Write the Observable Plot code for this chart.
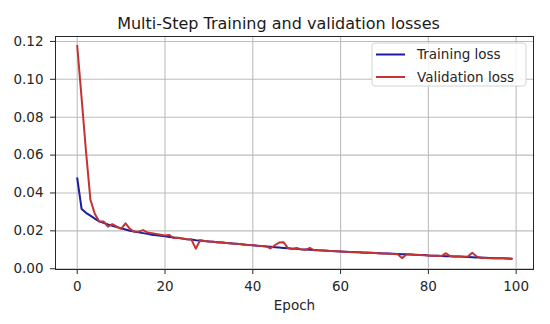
<!DOCTYPE html>
<html>
<head>
<meta charset="utf-8">
<script src="https://cdn.jsdelivr.net/npm/d3@7"></script>
<script src="https://cdn.jsdelivr.net/npm/@observablehq/plot@0.6"></script>
<style>
  html, body { margin: 0; padding: 0; background: #fff; }
  #chart { position: relative; width: 550px; height: 324px; }
</style>
</head>
<body>
<div id="chart"></div>
<script>
const titleText = "Multi-Step Training and validation losses";
const xLabel = "Epoch";
const seriesNames = ["Training loss", "Validation loss"];
const seriesColors = ["#1c1c9c", "#c23434"];
const xTicks = [0, 20, 40, 60, 80, 100];
const yTicks = [0.00, 0.02, 0.04, 0.06, 0.08, 0.10, 0.12];

const trainingLoss = [
  0.0478, 0.0315, 0.0295, 0.0280, 0.0265, 0.0250, 0.0242, 0.0234, 0.0227, 0.0220,
  0.0213, 0.0207, 0.0201, 0.0197, 0.0192, 0.0188, 0.0184, 0.0180, 0.0177, 0.0174,
  0.0171, 0.0168, 0.0165, 0.0162, 0.0159, 0.0156, 0.0154, 0.0151, 0.0149, 0.0146,
  0.0144, 0.0142, 0.0140, 0.0138, 0.0136, 0.0134, 0.0132, 0.0130, 0.0128, 0.0126,
  0.0124, 0.0122, 0.0120, 0.0118, 0.0116, 0.0114, 0.0112, 0.0110, 0.0108, 0.0106,
  0.0105, 0.0103, 0.0102, 0.0100, 0.0099, 0.0097, 0.0096, 0.0095, 0.0093, 0.0092,
  0.0091, 0.0090, 0.0089, 0.0088, 0.0087, 0.0086, 0.0085, 0.0084, 0.0083, 0.0082,
  0.0081, 0.0080, 0.0079, 0.0078, 0.0077, 0.0076, 0.0075, 0.0074, 0.0073, 0.0072,
  0.0070, 0.0069, 0.0068, 0.0067, 0.0066, 0.0066, 0.0065, 0.0064, 0.0063, 0.0062,
  0.0061, 0.0060, 0.0059, 0.0058, 0.0057, 0.0056, 0.0056, 0.0055, 0.0054, 0.0053
];

const validationLoss = [
  0.1177, 0.0900, 0.0620, 0.0365, 0.0290, 0.0250, 0.0250, 0.0222, 0.0235, 0.0222,
  0.0210, 0.0240, 0.0210, 0.0195, 0.0196, 0.0204, 0.0192, 0.0188, 0.0184, 0.0180,
  0.0176, 0.0178, 0.0162, 0.0163, 0.0160, 0.0156, 0.0155, 0.0106, 0.0150, 0.0147,
  0.0144, 0.0143, 0.0139, 0.0138, 0.0136, 0.0133, 0.0132, 0.0130, 0.0127, 0.0125,
  0.0124, 0.0121, 0.0120, 0.0119, 0.0107, 0.0124, 0.0138, 0.0140, 0.0109, 0.0104,
  0.0110, 0.0102, 0.0100, 0.0110, 0.0097, 0.0097, 0.0096, 0.0095, 0.0093, 0.0092,
  0.0091, 0.0090, 0.0089, 0.0087, 0.0088, 0.0085, 0.0086, 0.0083, 0.0083, 0.0081,
  0.0081, 0.0079, 0.0078, 0.0077, 0.0056, 0.0075, 0.0075, 0.0073, 0.0073, 0.0071,
  0.0070, 0.0069, 0.0069, 0.0067, 0.0082, 0.0066, 0.0065, 0.0064, 0.0063, 0.0064,
  0.0084, 0.0065, 0.0057, 0.0057, 0.0056, 0.0056, 0.0055, 0.0055, 0.0054, 0.0053
];

const rows = [];
trainingLoss.forEach((v, i) => rows.push({epoch: i, loss: v, series: seriesNames[0]}));
validationLoss.forEach((v, i) => rows.push({epoch: i, loss: v, series: seriesNames[1]}));

const font = "DejaVu Sans";
const gridColor = "#bdbdbd";

const plot = Plot.plot({
  width: 550,
  height: 324,
  marginLeft: 55,
  marginRight: 17,
  marginTop: 36,
  marginBottom: 55,
  style: {fontFamily: font, fontSize: "13.5px", color: "#262626", background: "#fff"},
  x: {domain: [-4.95, 103.95]},
  y: {domain: [-0.0004, 0.1226]},
  color: {domain: seriesNames, range: seriesColors},
  marks: [
    Plot.gridX(xTicks, {stroke: gridColor, strokeOpacity: 1, strokeWidth: 1.1}),
    Plot.gridY(yTicks, {stroke: gridColor, strokeOpacity: 1, strokeWidth: 1.1}),
    Plot.line(rows, {x: "epoch", y: "loss", z: "series", stroke: "series", strokeWidth: 2}),
    Plot.frame({stroke: "#262626", strokeWidth: 1}),
    Plot.axisX(xTicks, {tickSize: 5, tickPadding: 7, label: null, fontSize: 13.5}),
    Plot.axisY(yTicks, {tickSize: 5, tickPadding: 7, label: null, tickFormat: d3.format(".2f"), fontSize: 13.5}),
    Plot.text([titleText], {frameAnchor: "top", dy: -8, dx: -16, lineAnchor: "bottom", fontSize: 16, fill: "#1a1a1a"}),
    Plot.text([xLabel], {frameAnchor: "bottom", dy: 40, lineAnchor: "bottom", fontSize: 13.5, fill: "#262626"})
  ]
});

// Legend (top right, inside the frame)
const svg = d3.select(plot);
const lg = svg.append("g").attr("font-family", font).attr("font-size", 13.5).attr("text-anchor", "start");
lg.append("rect").attr("x", 372).attr("y", 43).attr("width", 154).attr("height", 43)
  .attr("rx", 3).attr("fill", "#fff").attr("fill-opacity", 0.85)
  .attr("stroke", "#d4d4d4").attr("stroke-width", 1);
seriesNames.forEach((name, i) => {
  const y = 54.5 + i * 22.5;
  lg.append("line").attr("x1", 376).attr("x2", 405).attr("y1", y).attr("y2", y)
    .attr("stroke", seriesColors[i]).attr("stroke-width", 2);
  lg.append("text").attr("x", 417).attr("y", y).attr("dy", "0.35em")
    .attr("text-anchor", "start").attr("fill", "#262626").text(name);
});

document.getElementById("chart").appendChild(plot);
</script>
</body>
</html>
